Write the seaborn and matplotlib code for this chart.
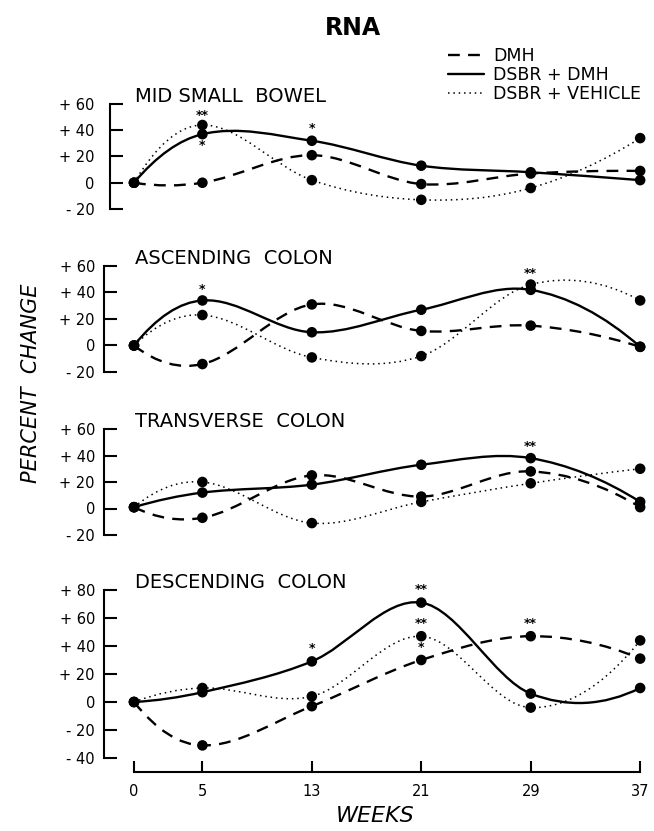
import numpy as np
import pandas as pd
import matplotlib
matplotlib.use("Agg")
import matplotlib.pyplot as plt
from matplotlib.path import Path
from matplotlib.patches import PathPatch
from matplotlib.lines import Line2D
import seaborn as sns

# data (percent change vs weeks)
weeks = [0, 5, 13, 21, 29, 37]
groups = ["DMH", "DSBR + DMH", "DSBR + VEHICLE"]
panel_titles = ["MID SMALL  BOWEL", "ASCENDING  COLON", "TRANSVERSE  COLON", "DESCENDING  COLON"]

mid_dmh = [0, 0, 21, -1, 7, 9]
mid_dsbr_dmh = [0, 37, 32, 13, 8, 2]
mid_dsbr_vehicle = [0, 44, 2, -13, -4, 34]

asc_dmh = [0, -14, 31, 11, 15, -1]
asc_dsbr_dmh = [0, 34, 10, 27, 42, -1]
asc_dsbr_vehicle = [0, 23, -9, -8, 46, 34]

trans_dmh = [1, -7, 25, 9, 28, 1]
trans_dsbr_dmh = [1, 12, 18, 33, 38, 5]
trans_dsbr_vehicle = [1, 20, -11, 5, 19, 30]

desc_dmh = [0, -31, -3, 30, 47, 31]
desc_dsbr_dmh = [0, 7, 29, 71, 6, 10]
desc_dsbr_vehicle = [0, 10, 4, 47, -4, 44]

panel_ticks = [
    [60, 40, 20, 0, -20],
    [60, 40, 20, 0, -20],
    [60, 40, 20, 0, -20],
    [80, 60, 40, 20, 0, -20, -40],
]

# significance marks
star_panel = [0, 0, 0, 1, 1, 2, 3, 3, 3, 3, 3]
star_week = [5, 5, 13, 5, 29, 29, 13, 21, 21, 21, 29]
star_value = [51, 28, 41, 42, 54, 47, 38, 80, 56, 39, 56]
star_text = ["**", "*", "*", "*", "**", "**", "*", "**", "**", "*", "**"]

series = [
    [mid_dmh, mid_dsbr_dmh, mid_dsbr_vehicle],
    [asc_dmh, asc_dsbr_dmh, asc_dsbr_vehicle],
    [trans_dmh, trans_dsbr_dmh, trans_dsbr_vehicle],
    [desc_dmh, desc_dsbr_dmh, desc_dsbr_vehicle],
]

styles = {
    "DMH": dict(linestyle=(0, (5, 3.5)), linewidth=1.7),
    "DSBR + DMH": dict(linestyle="-", linewidth=1.7),
    "DSBR + VEHICLE": dict(linestyle=(0, (1, 2.5)), linewidth=1.1),
}


def smooth_path(x, y):
    # cubic curve through the points, drawn as bezier segments
    x = np.asarray(x, float)
    y = np.asarray(y, float)
    n = len(x)
    m = np.zeros(n)
    for i in range(1, n - 1):
        m[i] = (y[i + 1] - y[i - 1]) / (x[i + 1] - x[i - 1])
    m[0] = 2 * (y[1] - y[0]) / (x[1] - x[0]) - m[1]
    m[-1] = 2 * (y[-1] - y[-2]) / (x[-1] - x[-2]) - m[-2]
    verts = [(x[0], y[0])]
    codes = [Path.MOVETO]
    for i in range(n - 1):
        h = x[i + 1] - x[i]
        verts += [(x[i] + h / 3, y[i] + m[i] * h / 3),
                  (x[i + 1] - h / 3, y[i + 1] - m[i + 1] * h / 3),
                  (x[i + 1], y[i + 1])]
        codes += [Path.CURVE4] * 3
    return Path(verts, codes)


def fmt(v):
    if v > 0:
        return "+ %d" % v
    if v < 0:
        return "- %d" % abs(v)
    return "0"


sns.set_style("ticks")
plt.rcParams["font.family"] = ["DejaVu Sans"]
plt.rcParams["text.color"] = "black"
plt.rcParams["axes.edgecolor"] = "black"
plt.rcParams["xtick.color"] = "black"
plt.rcParams["ytick.color"] = "black"

W, H = 654, 831
fig = plt.figure(figsize=(W / 100, H / 100), dpi=100)

# panel placement in pixels: left spine, top, bottom
boxes = [(110, 104, 209), (104, 266, 372), (104, 429, 535), (104, 590, 758)]
x0_px, px_per_week, right_px = 134, 13.68, 645

for k, (left, top, bottom) in enumerate(boxes):
    ax = fig.add_axes([left / W, 1 - bottom / H, (right_px - left) / W, (bottom - top) / H])
    ax.set_xlim((left - x0_px) / px_per_week, (right_px - x0_px) / px_per_week)
    ticks = panel_ticks[k]
    ax.set_ylim(min(ticks), max(ticks))

    for g, vals in zip(groups, series[k]):
        ax.add_patch(PathPatch(smooth_path(weeks, vals), fill=False, edgecolor="black",
                               clip_on=False, zorder=2, **styles[g]))

    df = pd.DataFrame({
        "week": weeks * 3,
        "value": series[k][0] + series[k][1] + series[k][2],
        "group": np.repeat(groups, len(weeks)),
    })
    sns.scatterplot(data=df, x="week", y="value", color="black", s=58, edgecolor="none",
                    legend=False, clip_on=False, zorder=3, ax=ax)

    for p, wk, v, t in zip(star_panel, star_week, star_value, star_text):
        if p == k:
            ax.text(wk, v, t, ha="center", va="center", fontsize=9, fontweight="bold")

    ax.set_yticks(ticks)
    ax.set_yticklabels([fmt(t) for t in ticks])
    ax.tick_params(axis="y", direction="in", length=9.5, width=1.5,
                   pad=11 if k == 0 else 6.5, labelsize=10.5, labelcolor="black")
    ax.set_xlabel("")
    ax.set_ylabel("")
    for s in ["top", "right"]:
        ax.spines[s].set_visible(False)
    ax.spines["left"].set_linewidth(1.5)

    ax.annotate(panel_titles[k], xy=(0.1, 1), xycoords=("data", "axes fraction"),
                xytext=(0, 5.5), textcoords="offset points", ha="left", va="center",
                fontsize=14, color="black")

    if k < 3:
        ax.spines["bottom"].set_visible(False)
        ax.set_xticks([])
    else:
        ax.spines["bottom"].set_position(("outward", 10))
        ax.spines["bottom"].set_bounds(0, 37)
        ax.spines["bottom"].set_linewidth(1.5)
        ax.set_xticks(weeks)
        ax.set_xticklabels([str(w) for w in weeks])
        ax.tick_params(axis="x", direction="in", length=8, width=1.5, pad=9,
                       labelsize=10.5, labelcolor="black")

handles = [Line2D([], [], color="black", **styles[g]) for g in groups]
fig.legend(handles, groups, loc="upper left", bbox_to_anchor=(448 / W, 1 - 47 / H),
           frameon=False, fontsize=12.5, handlelength=2.1, handletextpad=0.5,
           labelspacing=0.05, borderpad=0, borderaxespad=0)

fig.text(353 / W, 1 - 28 / H, "RNA", ha="center", va="center", fontsize=17, fontweight="bold")
fig.text(31 / W, 1 - 383 / H, "PERCENT  CHANGE", rotation=90, ha="center", va="center",
         fontsize=15, style="italic")
fig.text(375 / W, 1 - 816 / H, "WEEKS", ha="center", va="center", fontsize=16, style="italic")

fig.savefig("out.png", dpi=100)
